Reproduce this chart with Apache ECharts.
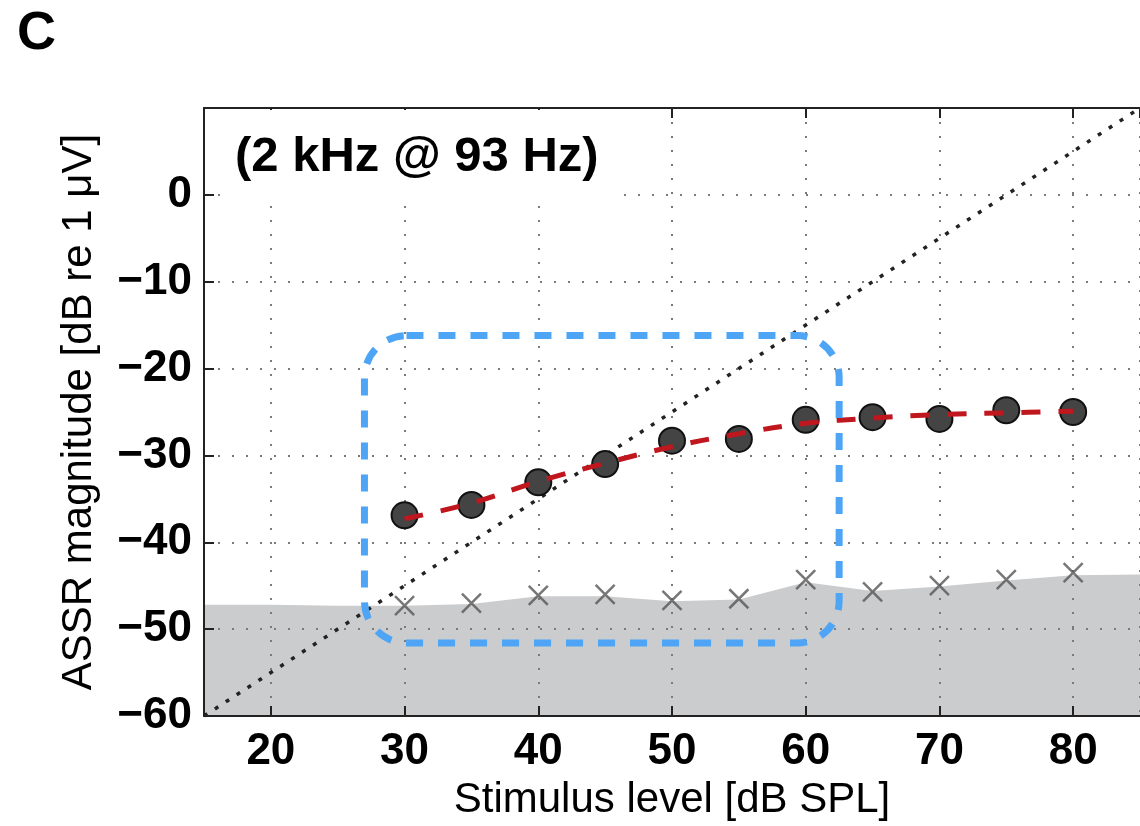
<!DOCTYPE html>
<html>
<head>
<meta charset="utf-8">
<title>ASSR magnitude</title>
<script src="https://cdn.jsdelivr.net/npm/echarts@6/dist/echarts.min.js"></script>
<style>
  html, body { margin: 0; padding: 0; background: #fff; }
  #chart { width: 1140px; height: 826px; }
</style>
</head>
<body>
<div id="chart"></div>
<script>
// stimulus levels (dB SPL) and measured values
var levels = [30, 35, 40, 45, 50, 55, 60, 65, 70, 75, 80];
var magnitudes = [-36.9, -35.7, -33.1, -31.0, -28.3, -28.1, -25.9, -25.6, -25.8, -24.8, -25.0];
var noiseLevels = [-47.3, -47.0, -46.1, -46.0, -46.7, -46.5, -44.3, -45.7, -45.0, -44.3, -43.5];
var fitValues = [-37.3, -35.5, -33.0, -30.9, -29.0, -27.5, -26.3, -25.7, -25.3, -25.1, -24.9];

// grey noise floor
var floorLevels = [15, 20, 25, 30, 35, 40, 45, 50, 55, 60, 65, 70, 75, 80, 85];
var floorValues = [-47.2, -47.2, -47.3, -47.3, -47.1, -46.2, -46.2, -46.8, -46.6, -44.6, -45.6, -45.1, -44.4, -43.8, -43.7];

// slope-1 reference line and the highlighted range [x1, y1, x2, y2]
var identityLine = [[15, -60], [85, 10]];
var highlightBox = [27, -16.2, 62.5, -51.6];

var xRange = [15, 85];
var yRange = [-60, 10];

var fontFamily = "'Liberation Sans', Arial, Helvetica, sans-serif";

function zip(xs, ys) {
  var out = [];
  for (var i = 0; i < xs.length; i++) {
    out.push([xs[i], ys[i]]);
  }
  return out;
}

function minusLabel(v) {
  if (v === 10) return '';
  return v < 0 ? '\u2212' + (-v) : String(v);
}

var gridLine = {
  show: true,
  lineStyle: { color: '#7a7a7a', width: 2, type: [2, 12] }
};
var axisLine = { show: true, onZero: false, lineStyle: { color: '#222', width: 2 } };
var axisTick = { show: true, inside: true, length: 10, lineStyle: { color: '#222', width: 2 } };

var option = {
  backgroundColor: '#fff',
  animation: false,
  title: [{
    text: 'C',
    left: 12,
    top: 2,
    textStyle: { fontFamily: fontFamily, fontSize: 54, fontWeight: 'bold', color: '#000' }
  }, {
    text: '(2 kHz @ 93 Hz)',
    left: 222,
    top: 110,
    padding: [23, 14, 15, 13],
    backgroundColor: '#fff',
    textStyle: { fontFamily: fontFamily, fontSize: 49, fontWeight: 'bold', color: '#000' }
  }],
  grid: { left: 204, top: 108, right: -4, bottom: 110, containLabel: false },
  xAxis: [{
    type: 'value',
    position: 'bottom',
    min: xRange[0],
    max: xRange[1],
    splitNumber: 7,
    name: 'Stimulus level [dB SPL]',
    nameLocation: 'middle',
    nameGap: 63,
    nameTextStyle: { fontFamily: fontFamily, fontSize: 42, color: '#000' },
    axisLine: axisLine,
    axisTick: axisTick,
    splitLine: gridLine,
    axisLabel: {
      showMinLabel: false,
      showMaxLabel: false,
      margin: 14,
      fontFamily: fontFamily,
      fontSize: 44,
      fontWeight: 'bold',
      color: '#000'
    }
  }, {
    type: 'value',
    position: 'top',
    min: xRange[0],
    max: xRange[1],
    splitNumber: 7,
    axisLine: axisLine,
    axisTick: axisTick,
    axisLabel: { show: false },
    splitLine: { show: false }
  }],
  yAxis: {
    type: 'value',
    min: yRange[0],
    max: yRange[1],
    interval: 10,
    name: 'ASSR magnitude [dB re 1 \u03bcV]',
    nameLocation: 'middle',
    nameGap: 104,
    nameTextStyle: { fontFamily: fontFamily, fontSize: 42, color: '#000' },
    axisLine: axisLine,
    axisTick: axisTick,
    splitLine: gridLine,
    axisLabel: {
      margin: 12,
      formatter: minusLabel,
      fontFamily: fontFamily,
      fontSize: 44,
      fontWeight: 'bold',
      color: '#000'
    }
  },
  series: [{
    // noise floor area, kept under the dotted grid
    type: 'line',
    z: -1,
    data: zip(floorLevels, floorValues),
    symbol: 'none',
    lineStyle: { width: 0 },
    areaStyle: { color: '#cbccce', opacity: 1, origin: 'start' }
  }, {
    type: 'line',
    z: 3,
    data: identityLine,
    symbol: 'none',
    lineStyle: { color: '#222', width: 3.5, type: [4, 9] }
  }, {
    type: 'scatter',
    z: 3,
    data: zip(levels, noiseLevels),
    symbol: 'path://M0,0L10,10M10,0L0,10',
    symbolSize: 19,
    itemStyle: { color: 'none', borderColor: '#555', borderWidth: 2.5 }
  }, {
    type: 'scatter',
    z: 4,
    data: zip(levels, magnitudes),
    symbol: 'circle',
    symbolSize: 26,
    itemStyle: { color: '#444', borderColor: '#111', borderWidth: 2, opacity: 1 }
  }, {
    type: 'line',
    z: 5,
    data: zip(levels, fitValues),
    smooth: 0.4,
    symbol: 'none',
    lineStyle: { color: '#c0161e', width: 5, type: [19, 18], cap: 'butt' }
  }, {
    // rounded dashed box over the linear range
    type: 'custom',
    z: 6,
    data: [highlightBox],
    encode: { x: [0, 2], y: [1, 3] },
    renderItem: function(params, api) {
      var p1 = api.coord([api.value(0), api.value(1)]);
      var p2 = api.coord([api.value(2), api.value(3)]);
      return {
        type: 'rect',
        shape: { x: p1[0], y: p1[1], width: p2[0] - p1[0], height: p2[1] - p1[1], r: 42 },
        style: { fill: 'none', stroke: '#4ea5f6', lineWidth: 7, lineDash: [17, 15] }
      };
    }
  }]
};

var myChart = echarts.init(document.getElementById('chart'));
myChart.setOption(option);
</script>
</body>
</html>
